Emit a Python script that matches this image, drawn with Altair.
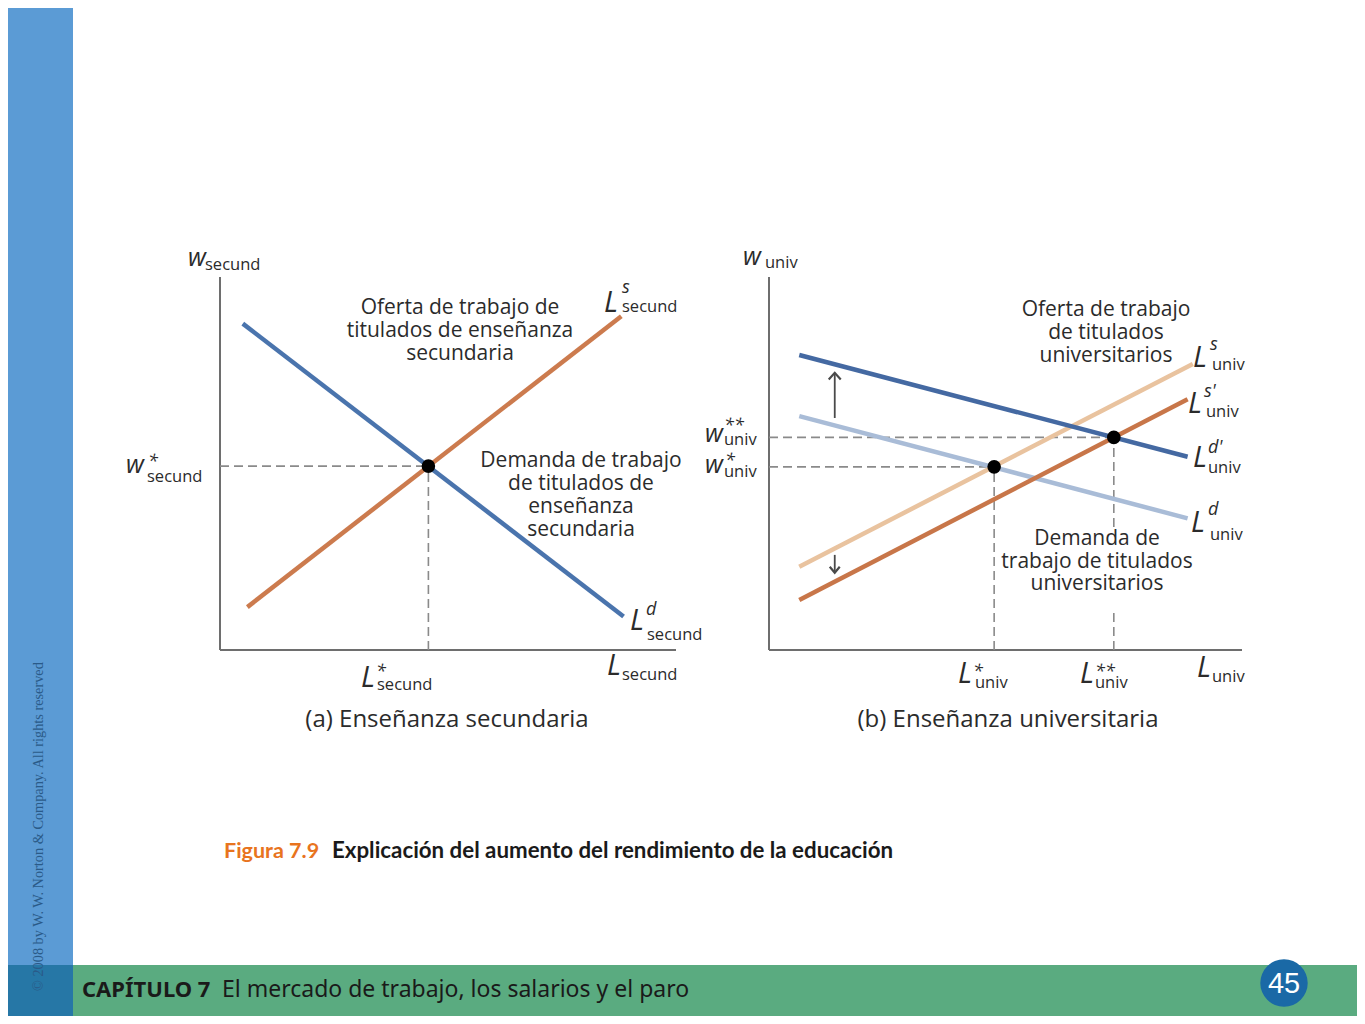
import altair as alt
import pandas as pd

OFF = 8                 # page margin of the html page
W, H = 1349, 1008       # drawing canvas

# ---------------- data (axis units 0..10) ----------------
# (a) Enseñanza secundaria
sec_demand_L = [0.5, 8.85]
sec_demand_w = [8.75, 0.9]
sec_supply_L = [0.6, 8.8]
sec_supply_w = [1.15, 8.95]
sec_eq_L = [4.57]
sec_eq_w = [4.93]

# (b) Enseñanza universitaria
univ_demand_L = [0.64, 8.85]
univ_demand_w = [6.27, 3.53]      # L^d
univ_demand1_w = [7.91, 5.18]     # L^d'
univ_supply_L = [0.64, 8.96]
univ_supply_w = [2.23, 7.67]      # L^s
univ_supply1_L = [0.64, 8.85]
univ_supply1_w = [1.34, 6.72]     # L^s'
univ_eq_L = [4.76, 7.29]
univ_eq_w = [4.91, 5.70]
shift_L = 1.39
shift_up_w = [6.22, 7.43]
shift_down_w = [2.55, 2.07]
gap_w = [3.30, 1.07]              # dashed line hidden behind the label

# ---------------- texts ----------------
oferta_a = ["Oferta de trabajo de", "titulados de enseñanza", "secundaria"]
demanda_a = ["Demanda de trabajo", "de titulados de", "enseñanza", "secundaria"]
oferta_b = ["Oferta de trabajo", "de titulados", "universitarios"]
demanda_b = ["Demanda de", "trabajo de titulados", "universitarios"]
title_a = "(a) Enseñanza secundaria"
title_b = "(b) Enseñanza universitaria"
caption_num = "Figura 7.9"
caption_txt = "Explicación del aumento del rendimiento de la educación"
chapter_b = "CAPÍTULO 7"
chapter_t = "El mercado de trabajo, los salarios y el paro"
page_num = "45"
copyright_txt = "© 2008 by W. W. Norton & Company. All rights reserved"

# symbol labels: texts and positions kept apart
w_labels = ["w", "w", "w", "w", "w"]
w_pos = [(188, 266), (126, 473), (743, 265), (705, 442), (705, 473)]
L_labels = ["L"] * 11
L_pos = [(604, 312), (630, 630), (361, 687), (607, 675),
         (1193, 367), (1188, 413), (1193, 467), (1191, 532), (958, 683), (1080, 683), (1197, 677)]
sub_labels = ["secund"] * 6 + ["univ"] * 10
sub_pos = [(205, 270), (622, 312), (147, 482), (647, 640), (377, 690), (622, 680),
           (765, 268), (1212, 370), (1206, 417), (724, 445), (724, 477), (1208, 473),
           (1210, 540), (975, 688), (1095, 688), (1212, 682)]
sup_labels = ["s", "*", "d", "*", "s", "s'", "**", "*", "d'", "d", "*", "**"]
sup_pos = [(622, 293), (148, 467), (646, 615), (376, 677),
           (1210, 350), (1204, 397), (724, 431), (725, 466), (1208, 453), (1208, 515),
           (973, 677), (1095, 677)]

# ---------------- helpers ----------------
def xs(panel):
    rng = [220 - OFF, 676 - OFF] if panel == "a" else [769 - OFF, 1242 - OFF]
    return alt.Scale(domain=[0, 10], range=rng, nice=False, zero=False)


def ys():
    return alt.Scale(domain=[0, 10], range=[650 - OFF, 277 - OFF], nice=False, zero=False)


def X(panel):
    return alt.X("x:Q", scale=xs(panel), axis=None)


def Y():
    return alt.Y("y:Q", scale=ys(), axis=None)


def curve(panel, Ls, ws, color):
    df = pd.DataFrame({"x": Ls, "y": ws})
    return alt.Chart(df).mark_line(color=color, strokeWidth=4.5, strokeCap="butt").encode(
        x=X(panel), y=Y())


def segs(panel, x, x2, y, y2, **style):
    df = pd.DataFrame({"x": x, "x2": x2, "y": y, "y2": y2})
    return alt.Chart(df).mark_rule(**style).encode(x=X(panel), x2="x2:Q", y=Y(), y2="y2:Q")


def dots(panel, Ls, ws):
    df = pd.DataFrame({"x": Ls, "y": ws})
    return alt.Chart(df).mark_circle(size=185, color="black", opacity=1).encode(x=X(panel), y=Y())


def head(panel, L, w, path, size):
    df = pd.DataFrame({"x": [L], "y": [w]})
    return alt.Chart(df).mark_point(shape=path, size=size, filled=False, strokeWidth=2.2,
                                    color="#4a4a4a", opacity=1).encode(x=X(panel), y=Y())


def texts(labels, pos, size, style="normal", weight="normal", align="left",
          font="Open Sans", color="#2b2b2b"):
    df = pd.DataFrame({"t": labels,
                       "x": [p[0] - OFF for p in pos],
                       "y": [p[1] - OFF for p in pos]})
    return alt.Chart(df).mark_text(font=font, fontSize=size, fontStyle=style, fontWeight=weight,
                                   align=align, baseline="alphabetic", color=color).encode(
        x=alt.X("x:Q", scale=None, axis=None), y=alt.Y("y:Q", scale=None, axis=None), text="t:N")


one = pd.DataFrame({"a": [0]})


def rect(x, x2, y, y2, color):
    return alt.Chart(one).mark_rect(color=color).encode(
        x=alt.value(x), x2=alt.value(x2), y=alt.value(y), y2=alt.value(y2))


def note(text, x, y, size, font, color, weight="normal", align="left", baseline="alphabetic", angle=0):
    return alt.Chart(one).mark_text(text=text, font=font, fontSize=size, fontWeight=weight,
                                    color=color, align=align, baseline=baseline, angle=angle).encode(
        x=alt.value(x - OFF), y=alt.value(y - OFF))


dash = dict(strokeDash=[9, 5], color="#8a8a8a", strokeWidth=1.6)
axis_style = dict(color="#6e6e6e", strokeWidth=2)

layers = [
    # slide decorations
    rect(0, 73 - OFF, 0, 965 - OFF, "#5b9bd5"),
    rect(0, 73 - OFF, 965 - OFF, H, "#2677a6"),
    rect(73 - OFF, W, 965 - OFF, H, "#5aab80"),
    alt.Chart(one).mark_circle(color="#1a69a6", opacity=1, size=2250).encode(
        x=alt.value(1284 - OFF), y=alt.value(983 - OFF)),
    note(page_num, 1284, 993, 29, "Liberation Sans", "white", align="center"),
    note(copyright_txt, 38.5, 991, 14.3, "Liberation Serif", "#2a5a88",
         baseline="middle", angle=270),
    note(chapter_b, 82, 997, 22, "Noto Sans", "#1a1a1a", weight="bold"),
    note(chapter_t, 222, 997, 23, "Noto Sans", "#1a1a1a"),
    note(caption_num, 224, 858, 21.5, "Lato", "#e8741e", weight="bold"),
    note(caption_txt, 332, 858, 22.3, "Lato", "#1a1a1a", weight="bold"),

    # panel (a)
    segs("a", [0, 0], [0, 10], [0, 0], [10, 0], **axis_style),
    segs("a", [0, sec_eq_L[0]], [sec_eq_L[0], sec_eq_L[0]],
         [sec_eq_w[0], 0], [sec_eq_w[0], sec_eq_w[0]], **dash),
    curve("a", sec_supply_L, sec_supply_w, "#cc7b4e"),
    curve("a", sec_demand_L, sec_demand_w, "#4a74ad"),
    dots("a", sec_eq_L, sec_eq_w),

    # panel (b)
    segs("b", [0, 0], [0, 10], [0, 0], [10, 0], **axis_style),
    segs("b",
         [0, univ_eq_L[0], 0, univ_eq_L[1], univ_eq_L[1]],
         [univ_eq_L[0], univ_eq_L[0], univ_eq_L[1], univ_eq_L[1], univ_eq_L[1]],
         [univ_eq_w[0], 0, univ_eq_w[1], gap_w[0], 0],
         [univ_eq_w[0], univ_eq_w[0], univ_eq_w[1], univ_eq_w[1], gap_w[1]], **dash),
    curve("b", univ_demand_L, univ_demand_w, "#a9bcd7"),
    curve("b", univ_supply_L, univ_supply_w, "#e9c39f"),
    curve("b", univ_supply1_L, univ_supply1_w, "#c87649"),
    curve("b", univ_demand_L, univ_demand1_w, "#4469a2"),
    dots("b", univ_eq_L, univ_eq_w),
    segs("b", [shift_L, shift_L], [shift_L, shift_L],
         [shift_up_w[0], shift_down_w[0]], [shift_up_w[1], shift_down_w[1]],
         color="#4a4a4a", strokeWidth=1.8),
    head("b", shift_L, shift_up_w[1], "M-1,1.1L0,0L1,1.1", 144),
    head("b", shift_L, shift_down_w[1], "M-1,-1.2L0,0L1,-1.2", 100),

    # labels
    texts(w_labels, w_pos, 25, style="italic"),
    texts(L_labels, L_pos, 29, style="italic"),
    texts(sub_labels, sub_pos, 16.5),
    texts(sup_labels, sup_pos, 18, style="italic"),
    texts(oferta_a, [(460, 314), (460, 337), (460, 360)], 21, align="center"),
    texts(demanda_a, [(581, 467), (581, 490), (581, 513), (581, 536)], 21, align="center"),
    texts(oferta_b, [(1106, 316), (1106, 339), (1106, 362)], 21, align="center"),
    texts(demanda_b, [(1097, 545), (1097, 568), (1097, 590)], 21, align="center"),
    texts([title_a, title_b], [(447, 727), (1008, 727)], 24, align="center"),
]

chart = alt.layer(*layers).resolve_scale(
    x="independent", y="independent"
).properties(
    width=W, height=H, padding=0, autosize=alt.AutoSizeParams(type="none")
).configure_view(strokeWidth=0)

chart.save("out.html", embed_options={"renderer": "svg", "actions": False})
